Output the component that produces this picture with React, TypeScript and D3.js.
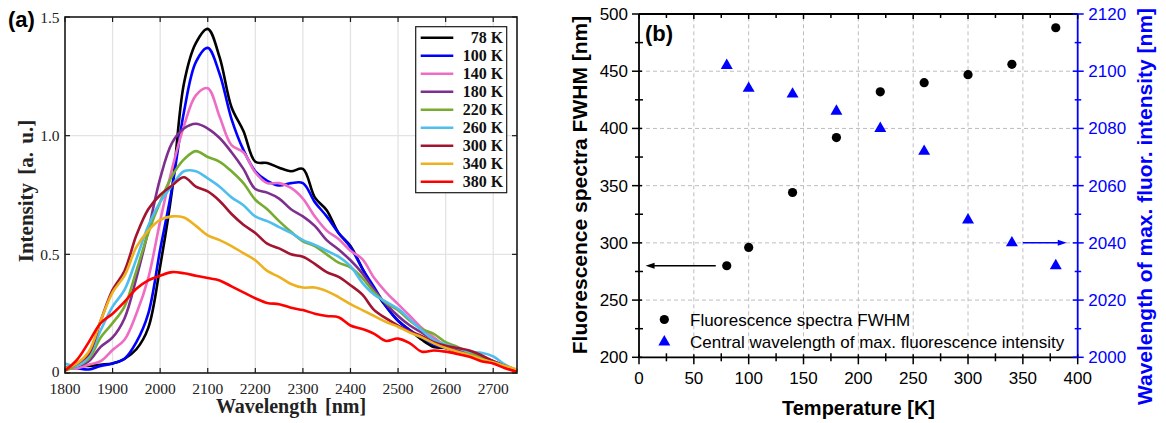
import React from "react";
import * as d3 from "d3";

// ---------- Panel (a) data ----------
const wavelengths = [1800, 1825, 1850, 1875, 1900, 1925, 1950, 1975, 2000, 2025, 2050, 2075, 2100, 2125, 2150, 2175, 2200, 2225, 2250, 2275, 2300, 2325, 2350, 2375, 2400, 2425, 2450, 2475, 2500, 2525, 2550, 2575, 2600, 2625, 2650, 2675, 2700, 2725, 2750];

const i78 = [0.02, 0.03, 0.03, 0.035, 0.04, 0.06, 0.10, 0.19, 0.45, 0.77, 1.22, 1.39, 1.45, 1.33, 1.12, 1.02, 0.89, 0.885, 0.865, 0.85, 0.86, 0.74, 0.686, 0.59, 0.535, 0.44, 0.35, 0.28, 0.22, 0.18, 0.14, 0.11, 0.105, 0.09, 0.075, 0.06, 0.045, 0.025, 0.01];
const i100 = [0.02, 0.02, 0.015, 0.03, 0.04, 0.06, 0.13, 0.25, 0.52, 0.78, 1.10, 1.31, 1.37, 1.26, 1.07, 0.94, 0.85, 0.81, 0.79, 0.80, 0.80, 0.72, 0.66, 0.59, 0.53, 0.44, 0.36, 0.28, 0.22, 0.18, 0.15, 0.12, 0.105, 0.09, 0.075, 0.06, 0.045, 0.025, 0.01];
const i140 = [0.02, 0.02, 0.035, 0.05, 0.097, 0.14, 0.25, 0.40, 0.64, 0.86, 1.04, 1.17, 1.20, 1.08, 0.96, 0.93, 0.845, 0.80, 0.80, 0.78, 0.735, 0.66, 0.60, 0.565, 0.515, 0.48, 0.40, 0.34, 0.29, 0.24, 0.19, 0.15, 0.115, 0.10, 0.08, 0.065, 0.05, 0.03, 0.01];
const i180 = [0.02, 0.03, 0.05, 0.11, 0.15, 0.23, 0.40, 0.60, 0.82, 0.97, 1.03, 1.05, 1.03, 0.99, 0.93, 0.86, 0.775, 0.76, 0.735, 0.69, 0.66, 0.62, 0.56, 0.52, 0.475, 0.42, 0.35, 0.29, 0.24, 0.20, 0.17, 0.14, 0.115, 0.10, 0.08, 0.065, 0.05, 0.03, 0.01];
const i220 = [0.01, 0.03, 0.06, 0.15, 0.21, 0.28, 0.43, 0.59, 0.72, 0.83, 0.90, 0.935, 0.91, 0.89, 0.85, 0.80, 0.73, 0.69, 0.64, 0.595, 0.555, 0.535, 0.50, 0.465, 0.445, 0.40, 0.34, 0.295, 0.265, 0.22, 0.185, 0.165, 0.13, 0.11, 0.085, 0.065, 0.045, 0.03, 0.01];
const i260 = [0.04, 0.03, 0.07, 0.18, 0.28, 0.35, 0.48, 0.62, 0.72, 0.79, 0.85, 0.85, 0.82, 0.785, 0.74, 0.707, 0.66, 0.64, 0.615, 0.59, 0.56, 0.54, 0.515, 0.49, 0.45, 0.38, 0.33, 0.30, 0.27, 0.225, 0.18, 0.14, 0.12, 0.105, 0.09, 0.085, 0.07, 0.035, 0.01];
const i300 = [0.02, 0.04, 0.08, 0.22, 0.35, 0.43, 0.58, 0.69, 0.75, 0.79, 0.825, 0.785, 0.765, 0.725, 0.67, 0.625, 0.59, 0.545, 0.525, 0.50, 0.49, 0.46, 0.425, 0.405, 0.37, 0.33, 0.265, 0.23, 0.20, 0.175, 0.155, 0.13, 0.115, 0.105, 0.095, 0.075, 0.05, 0.03, 0.01];
const i340 = [0.02, 0.04, 0.09, 0.22, 0.34, 0.41, 0.53, 0.60, 0.645, 0.66, 0.655, 0.62, 0.58, 0.56, 0.535, 0.505, 0.475, 0.43, 0.405, 0.375, 0.36, 0.36, 0.345, 0.32, 0.29, 0.265, 0.24, 0.215, 0.195, 0.17, 0.15, 0.125, 0.105, 0.09, 0.075, 0.058, 0.045, 0.03, 0.015];
const i380 = [0.01, 0.055, 0.13, 0.21, 0.25, 0.30, 0.355, 0.39, 0.41, 0.425, 0.42, 0.41, 0.40, 0.39, 0.365, 0.34, 0.315, 0.295, 0.29, 0.275, 0.265, 0.25, 0.24, 0.235, 0.20, 0.185, 0.165, 0.135, 0.145, 0.125, 0.09, 0.095, 0.09, 0.08, 0.068, 0.05, 0.04, 0.02, 0.005];

const seriesLabels = ["78 K", "100 K", "140 K", "180 K", "220 K", "260 K", "300 K", "340 K", "380 K"];
const seriesValues = [i78, i100, i140, i180, i220, i260, i300, i340, i380];
const seriesColors = ["#000000", "#0000ff", "#ef6cc4", "#7e2f8e", "#77ac30", "#4dbeee", "#a2142f", "#edb120", "#ff0000"];

const aXTicks = [1800, 1900, 2000, 2100, 2200, 2300, 2400, 2500, 2600, 2700];
const aYTicks = [0, 0.5, 1.0, 1.5];
const aYTickLabels = ["0", "0.5", "1.0", "1.5"];

// ---------- Panel (b) data ----------
const temperatures = [80, 100, 140, 180, 220, 260, 300, 340, 380];
const fwhm = [280, 296, 344, 392, 432, 440, 447, 456, 488];
const centralWl = [2102, 2094, 2092, 2086, 2080, 2072, 2048, 2040, 2032];

const bXTicks = [0, 50, 100, 150, 200, 250, 300, 350, 400];
const bXMinor = [25, 75, 125, 175, 225, 275, 325, 375];
const bYLTicks = [200, 250, 300, 350, 400, 450, 500];
const bYLMinor = [225, 275, 325, 375, 425, 475];
const bYRTicks = [2000, 2020, 2040, 2060, 2080, 2100, 2120];
const bYRMinor = [2010, 2030, 2050, 2070, 2090, 2110];

const SERIF = "'Liberation Serif', 'Times New Roman', serif";
const SANS = "'Liberation Sans', Arial, sans-serif";

export default function App() {
  // Panel (a) scales
  const xa = d3.scaleLinear().domain([1800, 2750]).range([65, 517]);
  const ya = d3.scaleLinear().domain([0, 1.5]).range([373, 17]);
  const line = d3
    .line<number>()
    .x((_, i) => xa(wavelengths[i]))
    .y((d) => ya(d))
    .curve(d3.curveCatmullRom.alpha(0.5));

  // Panel (b) scales
  const xb = d3.scaleLinear().domain([0, 400]).range([639, 1077.7]);
  const ybl = d3.scaleLinear().domain([200, 500]).range([357.3, 14]);
  const ybr = d3.scaleLinear().domain([2000, 2120]).range([357.3, 14]);
  const tri = d3.symbol().type(d3.symbolTriangle).size(62)();

  const axisColor = "#1a1a1a";
  const blue = "#0000ff";

  // arrows
  const la = { y: ybl(280), x1: xb(70), x2: xb(6) };
  const ra = { y: ybr(2040), x1: xb(350), x2: xb(390) };

  return (
    <svg width={1166} height={423} style={{ display: "block", position: "absolute", left: 0, top: 0 }}>
      <rect x={0} y={0} width={1166} height={423} fill="#fff" />
      {/* ================= Panel (a) ================= */}
      <g>
        {/* grid */}
        {aXTicks.slice(1).map((t) => (
          <line key={"ga" + t} x1={xa(t)} x2={xa(t)} y1={ya(0)} y2={ya(1.5)} stroke="#e3e3e3" strokeWidth={1.3} />
        ))}
        {aYTicks.slice(1, 3).map((t) => (
          <line key={"gy" + t} x1={xa(1800)} x2={xa(2750)} y1={ya(t)} y2={ya(t)} stroke="#e3e3e3" strokeWidth={1.3} />
        ))}
        {/* curves */}
        {seriesValues.map((vals, i) => (
          <path key={"s" + i} d={line(vals) || ""} fill="none" stroke={seriesColors[i]} strokeWidth={2.6} strokeLinejoin="round" />
        ))}
        {/* frame */}
        <rect x={xa(1800)} y={ya(1.5)} width={xa(2750) - xa(1800)} height={ya(0) - ya(1.5)} fill="none" stroke={axisColor} strokeWidth={1.6} />
        {/* ticks */}
        {aXTicks.map((t) => (
          <g key={"xt" + t}>
            <line x1={xa(t)} x2={xa(t)} y1={ya(0)} y2={ya(0) - 5} stroke={axisColor} strokeWidth={1.2} />
            <line x1={xa(t)} x2={xa(t)} y1={ya(1.5)} y2={ya(1.5) + 5} stroke={axisColor} strokeWidth={1.2} />
            <text x={xa(t)} y={394} textAnchor="middle" fontFamily={SERIF} fontSize={15.5} fill="#222">
              {t}
            </text>
          </g>
        ))}
        {aYTicks.map((t, i) => (
          <g key={"yt" + t}>
            <line x1={xa(1800)} x2={xa(1800) + 5} y1={ya(t)} y2={ya(t)} stroke={axisColor} strokeWidth={1.2} />
            <line x1={xa(2750)} x2={xa(2750) - 5} y1={ya(t)} y2={ya(t)} stroke={axisColor} strokeWidth={1.2} />
            <text x={59.5} y={ya(t) + (t === 0 ? 3.5 : 5.5)} textAnchor="end" fontFamily={SERIF} fontSize={15.5} fill="#222">
              {aYTickLabels[i]}
            </text>
          </g>
        ))}
        {/* axis titles */}
        <text x={291} y={413} textAnchor="middle" fontFamily={SERIF} fontSize={20} fontWeight="bold" fill="#222" style={{ wordSpacing: "3px" }}>
          Wavelength [nm]
        </text>
        <text transform={`translate(33,191) rotate(-90)`} textAnchor="middle" fontFamily={SERIF} fontSize={21} fontWeight="bold" fill="#222" style={{ wordSpacing: "3px" }}>
          Intensity [a. u.]
        </text>
        <text x={8} y={27} fontFamily={SANS} fontSize={22} fontWeight="bold" fill="#000">
          (a)
        </text>
        {/* legend */}
        <rect x={415.7} y={26.7} width={91} height={166} fill="#fff" stroke={axisColor} strokeWidth={1.2} />
        {seriesLabels.map((lab, i) => {
          const yy = 37.7 + i * 18;
          return (
            <g key={"lg" + i}>
              <line x1={420.7} x2={453.3} y1={yy} y2={yy} stroke={seriesColors[i]} strokeWidth={2.6} />
              <text x={503.3} y={yy + 5.5} textAnchor="end" fontFamily={SERIF} fontSize={16} fontWeight="bold" fill="#111">
                {lab}
              </text>
            </g>
          );
        })}
      </g>

      {/* ================= Panel (b) ================= */}
      <g>
        {/* dashed grid */}
        {bXTicks.slice(1, -1).map((t) => (
          <line key={"gbx" + t} x1={xb(t)} x2={xb(t)} y1={ybl(200)} y2={ybl(500)} stroke="#bdbdbd" strokeWidth={1} strokeDasharray="4,3" />
        ))}
        {bYLTicks.slice(1, -1).map((t) => (
          <line key={"gby" + t} x1={xb(0)} x2={xb(400)} y1={ybl(t)} y2={ybl(t)} stroke="#bdbdbd" strokeWidth={1} strokeDasharray="4,3" />
        ))}

        {/* axes lines */}
        <line x1={xb(0)} x2={xb(400)} y1={ybl(500)} y2={ybl(500)} stroke="#000" strokeWidth={1.8} />
        <line x1={xb(0)} x2={xb(400)} y1={ybl(200)} y2={ybl(200)} stroke="#000" strokeWidth={1.8} />
        <line x1={xb(0)} x2={xb(0)} y1={ybl(200)} y2={ybl(500)} stroke="#000" strokeWidth={1.8} />
        <line x1={xb(400)} x2={xb(400)} y1={ybr(2000)} y2={ybr(2120)} stroke={blue} strokeWidth={1.8} />

        {/* bottom ticks + labels */}
        {bXTicks.map((t) => (
          <g key={"bxt" + t}>
            <line x1={xb(t)} x2={xb(t)} y1={ybl(200) - 3} y2={ybl(200) + 7} stroke="#000" strokeWidth={1.5} />
            <line x1={xb(t)} x2={xb(t)} y1={ybl(500)} y2={ybl(500) + 5} stroke="#000" strokeWidth={1.5} />
            <text x={xb(t)} y={383.5} textAnchor="middle" fontFamily={SANS} fontSize={17} fill="#000">
              {t}
            </text>
          </g>
        ))}
        {bXMinor.map((t) => (
          <g key={"bxm" + t}>
            <line x1={xb(t)} x2={xb(t)} y1={ybl(200) - 4} y2={ybl(200) + 4} stroke="#000" strokeWidth={1.5} />
            <line x1={xb(t)} x2={xb(t)} y1={ybl(500)} y2={ybl(500) + 4} stroke="#000" strokeWidth={1.5} />
          </g>
        ))}
        {/* left ticks */}
        {bYLTicks.map((t) => (
          <g key={"blt" + t}>
            <line x1={xb(0) - 7} x2={xb(0) + 3} y1={ybl(t)} y2={ybl(t)} stroke="#000" strokeWidth={1.5} />
            <text x={628} y={ybl(t) + 6} textAnchor="end" fontFamily={SANS} fontSize={17} fill="#000">
              {t}
            </text>
          </g>
        ))}
        {bYLMinor.map((t) => (
          <line key={"blm" + t} x1={xb(0) - 4} x2={xb(0) + 4} y1={ybl(t)} y2={ybl(t)} stroke="#000" strokeWidth={1.5} />
        ))}
        {/* right ticks */}
        {bYRTicks.map((t) => (
          <g key={"brt" + t}>
            <line x1={xb(400) - 5} x2={xb(400) + 6} y1={ybr(t)} y2={ybr(t)} stroke={blue} strokeWidth={1.5} />
            <text x={1088.3} y={ybr(t) + 6} textAnchor="start" fontFamily={SANS} fontSize={17} fill={blue}>
              {t}
            </text>
          </g>
        ))}
        {bYRMinor.map((t) => (
          <line key={"brm" + t} x1={xb(400) - 3} x2={xb(400) + 3.5} y1={ybr(t)} y2={ybr(t)} stroke={blue} strokeWidth={1.5} />
        ))}

        {/* data */}
        {temperatures.map((t, i) => (
          <circle key={"c" + t} cx={xb(t)} cy={ybl(fwhm[i])} r={4.6} fill="#000" />
        ))}
        {temperatures.map((t, i) => (
          <path key={"t" + t} d={tri || ""} transform={`translate(${xb(t)},${ybr(centralWl[i])})`} fill={blue} />
        ))}

        {/* arrows */}
        <line x1={la.x1} x2={la.x2 + 6} y1={la.y} y2={la.y} stroke="#000" strokeWidth={1.5} />
        <path d={`M${la.x2},${la.y} L${la.x2 + 9},${la.y - 3} L${la.x2 + 9},${la.y + 3} Z`} fill="#000" />
        <line x1={ra.x1} x2={ra.x2 - 6} y1={ra.y} y2={ra.y} stroke={blue} strokeWidth={1.5} />
        <path d={`M${ra.x2},${ra.y} L${ra.x2 - 9},${ra.y - 3} L${ra.x2 - 9},${ra.y + 3} Z`} fill={blue} />

        {/* legend */}
        <circle cx={664.3} cy={319.5} r={4.6} fill="#000" />
        <text x={690} y={326} fontFamily={SANS} fontSize={17} fill="#000">
          Fluorescence spectra FWHM
        </text>
        <path d={tri || ""} transform={`translate(664.3,342)`} fill={blue} />
        <text x={690} y={347.5} fontFamily={SANS} fontSize={17} fill="#000">
          Central wavelength of max. fluorescence intensity
        </text>

        {/* titles */}
        <text x={858.5} y={415} textAnchor="middle" fontFamily={SANS} fontSize={20} fontWeight="bold" fill="#000">
          Temperature [K]
        </text>
        <text transform={`translate(587,185) rotate(-90)`} textAnchor="middle" fontFamily={SANS} fontSize={21} fontWeight="bold" fill="#000">
          Fluorescence spectra FWHM [nm]
        </text>
        <text transform={`translate(1152,206.5) rotate(-90)`} textAnchor="middle" fontFamily={SANS} fontSize={21} fontWeight="bold" fill={blue}>
          Wavelength of max. fluor. intensity [nm]
        </text>
        <text x={645} y={41} fontFamily={SANS} fontSize={22} fontWeight="bold" fill="#000">
          (b)
        </text>
      </g>
    </svg>
  );
}
